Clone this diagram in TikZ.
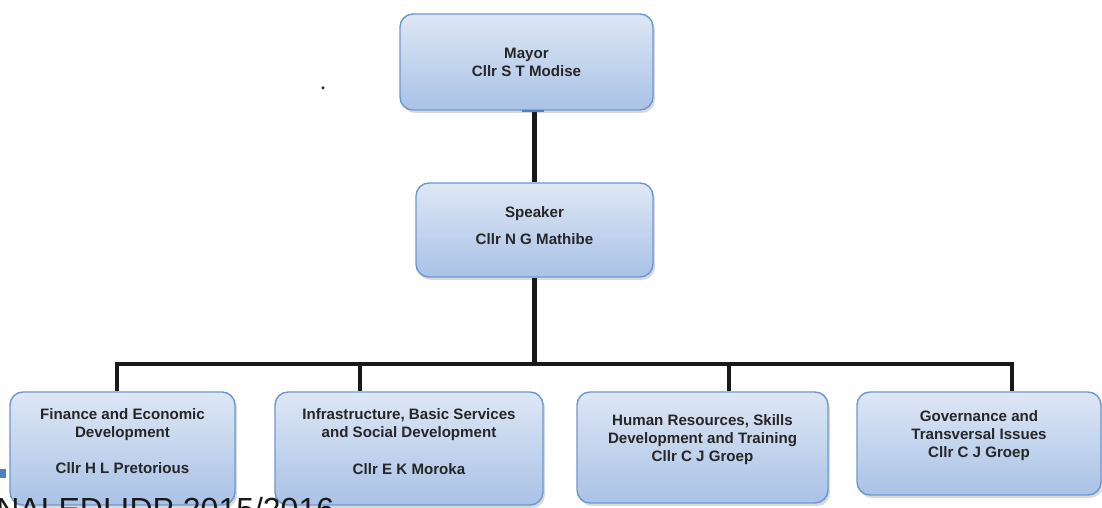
\documentclass[tikz,border=0pt]{standalone}
\usepackage{fontspec}
\setmainfont{Liberation Sans}
\usepackage{xcolor}
\usetikzlibrary{shadows}

\definecolor{boxtop}{HTML}{DEE7F5}
\definecolor{boxbottom}{HTML}{A9C2E6}
\definecolor{boxedge}{HTML}{6D98CF}
\definecolor{markblue}{HTML}{4F81BD}

\begin{document}
\begin{tikzpicture}[
    % GLOBAL CFG
    font=\fontsize{8.6}{10.2}\selectfont\bfseries,
    % Styles
    office/.style={% For the boxes of the office bearers
        rectangle,
        rounded corners=2.6mm,
        draw=boxedge,
        line width=0.8pt,
        top color=boxtop,
        bottom color=boxbottom,
        align=center,
        text=black!85,
        drop shadow={shadow xshift=0.4mm, shadow yshift=-0.6mm, opacity=0.3},
        },
    link/.style={% For the black connectors
        line width=2.3pt,
        black!90,
        },
    bar/.style={% For the long line over the committees
        line width=2.8pt,
        black!90,
        },
    ]

% keep the page as large as the reference
\useasboundingbox (0,0) rectangle (22.04,10.16);

%Start drawing the thing...
    % Top of the tree
    \node [office, minimum width=5.06cm, minimum height=1.92cm] (mayor) at (10.53,8.92) {Mayor\\Cllr S T Modise};
    \node [office, minimum width=4.74cm, minimum height=1.88cm] (speaker) at (10.69,5.56) {Speaker\\[0.18cm]Cllr N G Mathibe\\[-0.18cm]};

    % The committees
    \node [office, minimum width=4.50cm, minimum height=2.26cm] (finance) at (2.45,1.19) {Finance and Economic\\Development\\[0.38cm]Cllr H L Pretorious\\[-0.06cm]};
    \node [office, minimum width=5.36cm, minimum height=2.26cm] (infra) at (8.18,1.19) {Infrastructure, Basic Services\\and Social Development\\[0.38cm]Cllr E K Moroka\\[-0.08cm]};
    \node [office, minimum width=5.02cm, minimum height=2.22cm] (hr) at (14.05,1.21) {Human Resources, Skills\\Development and Training\\Cllr C J Groep\\[0.02cm]};
    \node [office, minimum width=4.88cm, minimum height=2.06cm] (gov) at (19.58,1.29) {Governance and\\Transversal Issues\\Cllr C J Groep\\[0.02cm]};

    % Where the bar meets the drops
    \coordinate (j1) at (2.34,2.88);
    \coordinate (j2) at (7.20,2.88);
    \coordinate (j3) at (14.58,2.88);
    \coordinate (j4) at (20.24,2.88);

    % Connectors
    \draw [link] (speaker.north) -- (speaker.north |- mayor.south);
    \draw [markblue, line width=1.3pt] ([xshift=-0.25cm]speaker.north |- mayor.south) -- ++(0.44,0);
    \draw [link] (speaker.south) -- (speaker.south |- j1);
    \draw [bar] (j1 |- finance.north) -- (j1) -- (j4) -- (j4 |- gov.north);
    \draw [link] (j2) -- (j2 |- infra.north);
    \draw [link] (j3) -- (j3 |- hr.north);

    % Odd bits of the page
    \fill [black!80] (6.46,8.40) circle (0.035);
    \fill [markblue] (0,0.60) rectangle (0.12,0.78);
    \node [anchor=base west, inner sep=0, font=\fontsize{18.2}{20}\selectfont, text=black!90] (footer) at (-0.08,-0.26) {NALEDI IDP 2015/2016};
\end{tikzpicture}
\end{document}
